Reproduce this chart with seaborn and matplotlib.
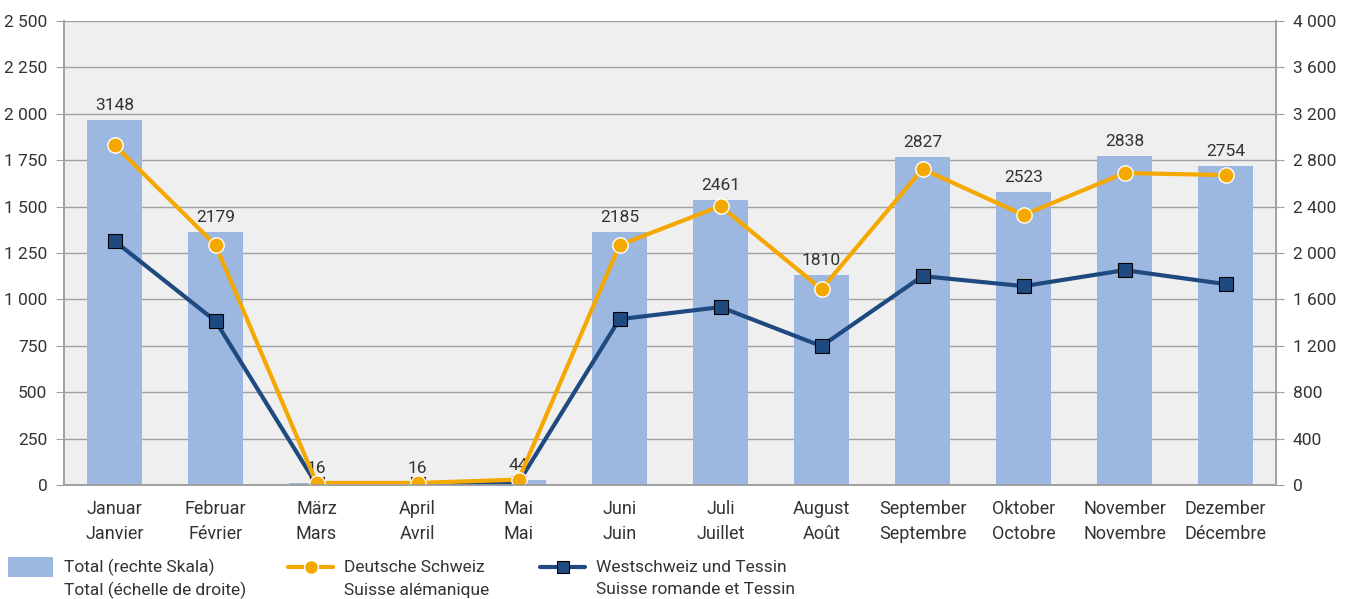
import numpy as np
import pandas as pd
import matplotlib
matplotlib.use("Agg")
import matplotlib.pyplot as plt
import seaborn as sns
from matplotlib.patches import Rectangle
from matplotlib.lines import Line2D

# ---------------------------------------------------------------------------
# Data
# ---------------------------------------------------------------------------
months = ["Januar\nJanvier", "Februar\nFévrier", "März\nMars", "April\nAvril",
          "Mai\nMai", "Juni\nJuin", "Juli\nJuillet", "August\nAoût",
          "September\nSeptembre", "Oktober\nOctobre", "November\nNovembre",
          "Dezember\nDécembre"]
total = [3148, 2179, 16, 16, 44, 2185, 2461, 1810, 2827, 2523, 2838, 2754]
deutsch = [1832, 1293, 12, 12, 30, 1293, 1503, 1056, 1703, 1455, 1681, 1670]
west = [1315, 884, 4, 4, 14, 894, 959, 749, 1126, 1072, 1158, 1083]

legend_top = ["Total (rechte Skala)", "Deutsche Schweiz", "Westschweiz und Tessin"]
legend_bottom = ["Total (échelle de droite)", "Suisse alémanique",
                 "Suisse romande et Tessin"]

C_BAR = "#9db8e0"
C_ORANGE = "#f5a800"
C_NAVY = "#1f4a80"
C_GRID = "#a0a0a0"
C_TEXT = "#333333"
FS = 12.5
FS_X = 13

sns.set_style("white")
plt.rcParams["font.family"] = ["Roboto", "DejaVu Sans"]
plt.rcParams["font.size"] = FS


def fmt(v):
    return f"{v:,}".replace(",", " ")


df = pd.DataFrame({"month": months, "total": total,
                   "deutsch": deutsch, "west": west})
df["x"] = np.arange(len(df))

fig = plt.figure(figsize=(13.54, 5.99), dpi=100)
ax = fig.add_axes([0.0473, 0.19, 0.8951, 0.775])
ax.set_facecolor("#efefef")

# bars on right-hand scale
sns.barplot(data=df, x="month", y="total", color=C_BAR, width=0.55,
            saturation=1, linewidth=0, ax=ax, zorder=2)
ax.bar_label(ax.containers[0], labels=[str(v) for v in total], padding=5,
             fontsize=FS, color=C_TEXT)
ax.set_ylim(0, 4000)
ax.set_yticks(np.arange(0, 4001, 400))
ax.set_yticklabels([fmt(v) for v in range(0, 4001, 400)])
ax.grid(axis="y", color=C_GRID, lw=1, zorder=0)
ax.set_axisbelow(True)
ax.set_xlim(-0.5, 11.5)
ax.set_xlabel("")
ax.set_ylabel("")
for t in ax.get_xticklabels():
    t.set_linespacing(1.5)

# lines on left-hand scale
axl = ax.twinx()
ax.yaxis.tick_right()
axl.yaxis.tick_left()
sns.lineplot(data=df, x="x", y="west", color=C_NAVY, lw=3, marker="s",
             markersize=10, markeredgecolor="black", markeredgewidth=0.8,
             ax=axl)
sns.lineplot(data=df, x="x", y="deutsch", color=C_ORANGE, lw=3, marker="o",
             markersize=11, markeredgecolor="white", markeredgewidth=1,
             ax=axl)
axl.set_ylim(0, 2500)
axl.set_yticks(np.arange(0, 2501, 250))
axl.set_yticklabels([fmt(v) for v in range(0, 2501, 250)])
axl.set_xlim(-0.5, 11.5)
axl.set_xlabel("")
axl.set_ylabel("")

for a in (ax, axl):
    a.spines["top"].set_visible(False)
    for s in ("left", "right", "bottom"):
        a.spines[s].set_color(C_GRID)
        a.spines[s].set_linewidth(1.2)
    a.tick_params(axis="y", length=6, color=C_GRID, labelsize=FS,
                  labelcolor=C_TEXT, pad=6)
ax.tick_params(axis="x", length=0, labelsize=FS_X, labelcolor=C_TEXT, pad=11)
axl.tick_params(axis="x", length=0, labelbottom=False)

# legend below the chart (handle aligned to first text line)
W, H = fig.get_size_inches() * fig.dpi
y1 = 1 - 567 / H
y2 = 1 - 590 / H
hx = [8, 288, 540]
fig.add_artist(Rectangle((hx[0] / W, 1 - 577 / H), 45 / W, 20 / H,
                         transform=fig.transFigure, facecolor=C_BAR,
                         edgecolor="none"))
fig.add_artist(Line2D([hx[1] / W, (hx[1] + 45) / W], [y1, y1],
                      transform=fig.transFigure, color=C_ORANGE, lw=3))
fig.add_artist(Line2D([(hx[1] + 22.5) / W], [y1], transform=fig.transFigure,
                      color=C_ORANGE, marker="o", markersize=10,
                      markeredgecolor="white"))
fig.add_artist(Line2D([hx[2] / W, (hx[2] + 45) / W], [y1, y1],
                      transform=fig.transFigure, color=C_NAVY, lw=3))
fig.add_artist(Line2D([(hx[2] + 22.5) / W], [y1], transform=fig.transFigure,
                      color=C_NAVY, marker="s", markersize=9,
                      markeredgecolor="black", markeredgewidth=0.8))
for x0, top, bottom in zip(hx, legend_top, legend_bottom):
    fig.text((x0 + 56) / W, y1, top, va="center", ha="left", fontsize=FS,
             color=C_TEXT)
    fig.text((x0 + 56) / W, y2, bottom, va="center", ha="left", fontsize=FS,
             color=C_TEXT)

fig.savefig("out.png", dpi=100)
